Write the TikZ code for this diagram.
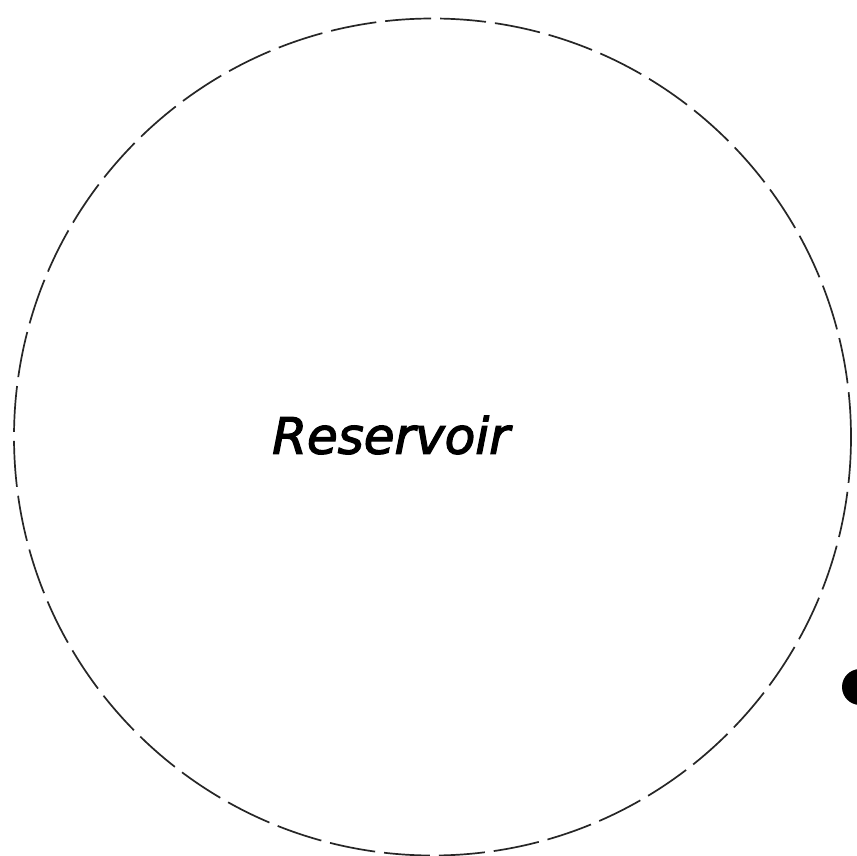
\documentclass[tikz,border=0pt]{standalone}
\usepackage{fontspec}
\newfontfamily\labelfont{DejaVu Sans Oblique}
\newcommand\heavytext[1]{\special{pdf:literal 2 Tr 1.3 w}#1\special{pdf:literal 0 Tr}}
\begin{document}
\begin{tikzpicture}[x=1pt,y=-1pt,
  boundary/.style={draw=black!85,line width=1.7pt,dash pattern=on 46pt off 9pt},
  label/.style={font=\labelfont\fontsize{50}{50}\selectfont,inner sep=0pt}]
\useasboundingbox (0,0) rectangle (857,856);
\fill[white] (0,0) rectangle (857,856);
\coordinate (c) at (432.5,437);
\draw[boundary] (c) circle[radius=418.5];
\node[label] (res) at (391,435) {\heavytext{Reservoir}};
\fill[black] (860,687) circle[radius=18];
\end{tikzpicture}
\end{document}
